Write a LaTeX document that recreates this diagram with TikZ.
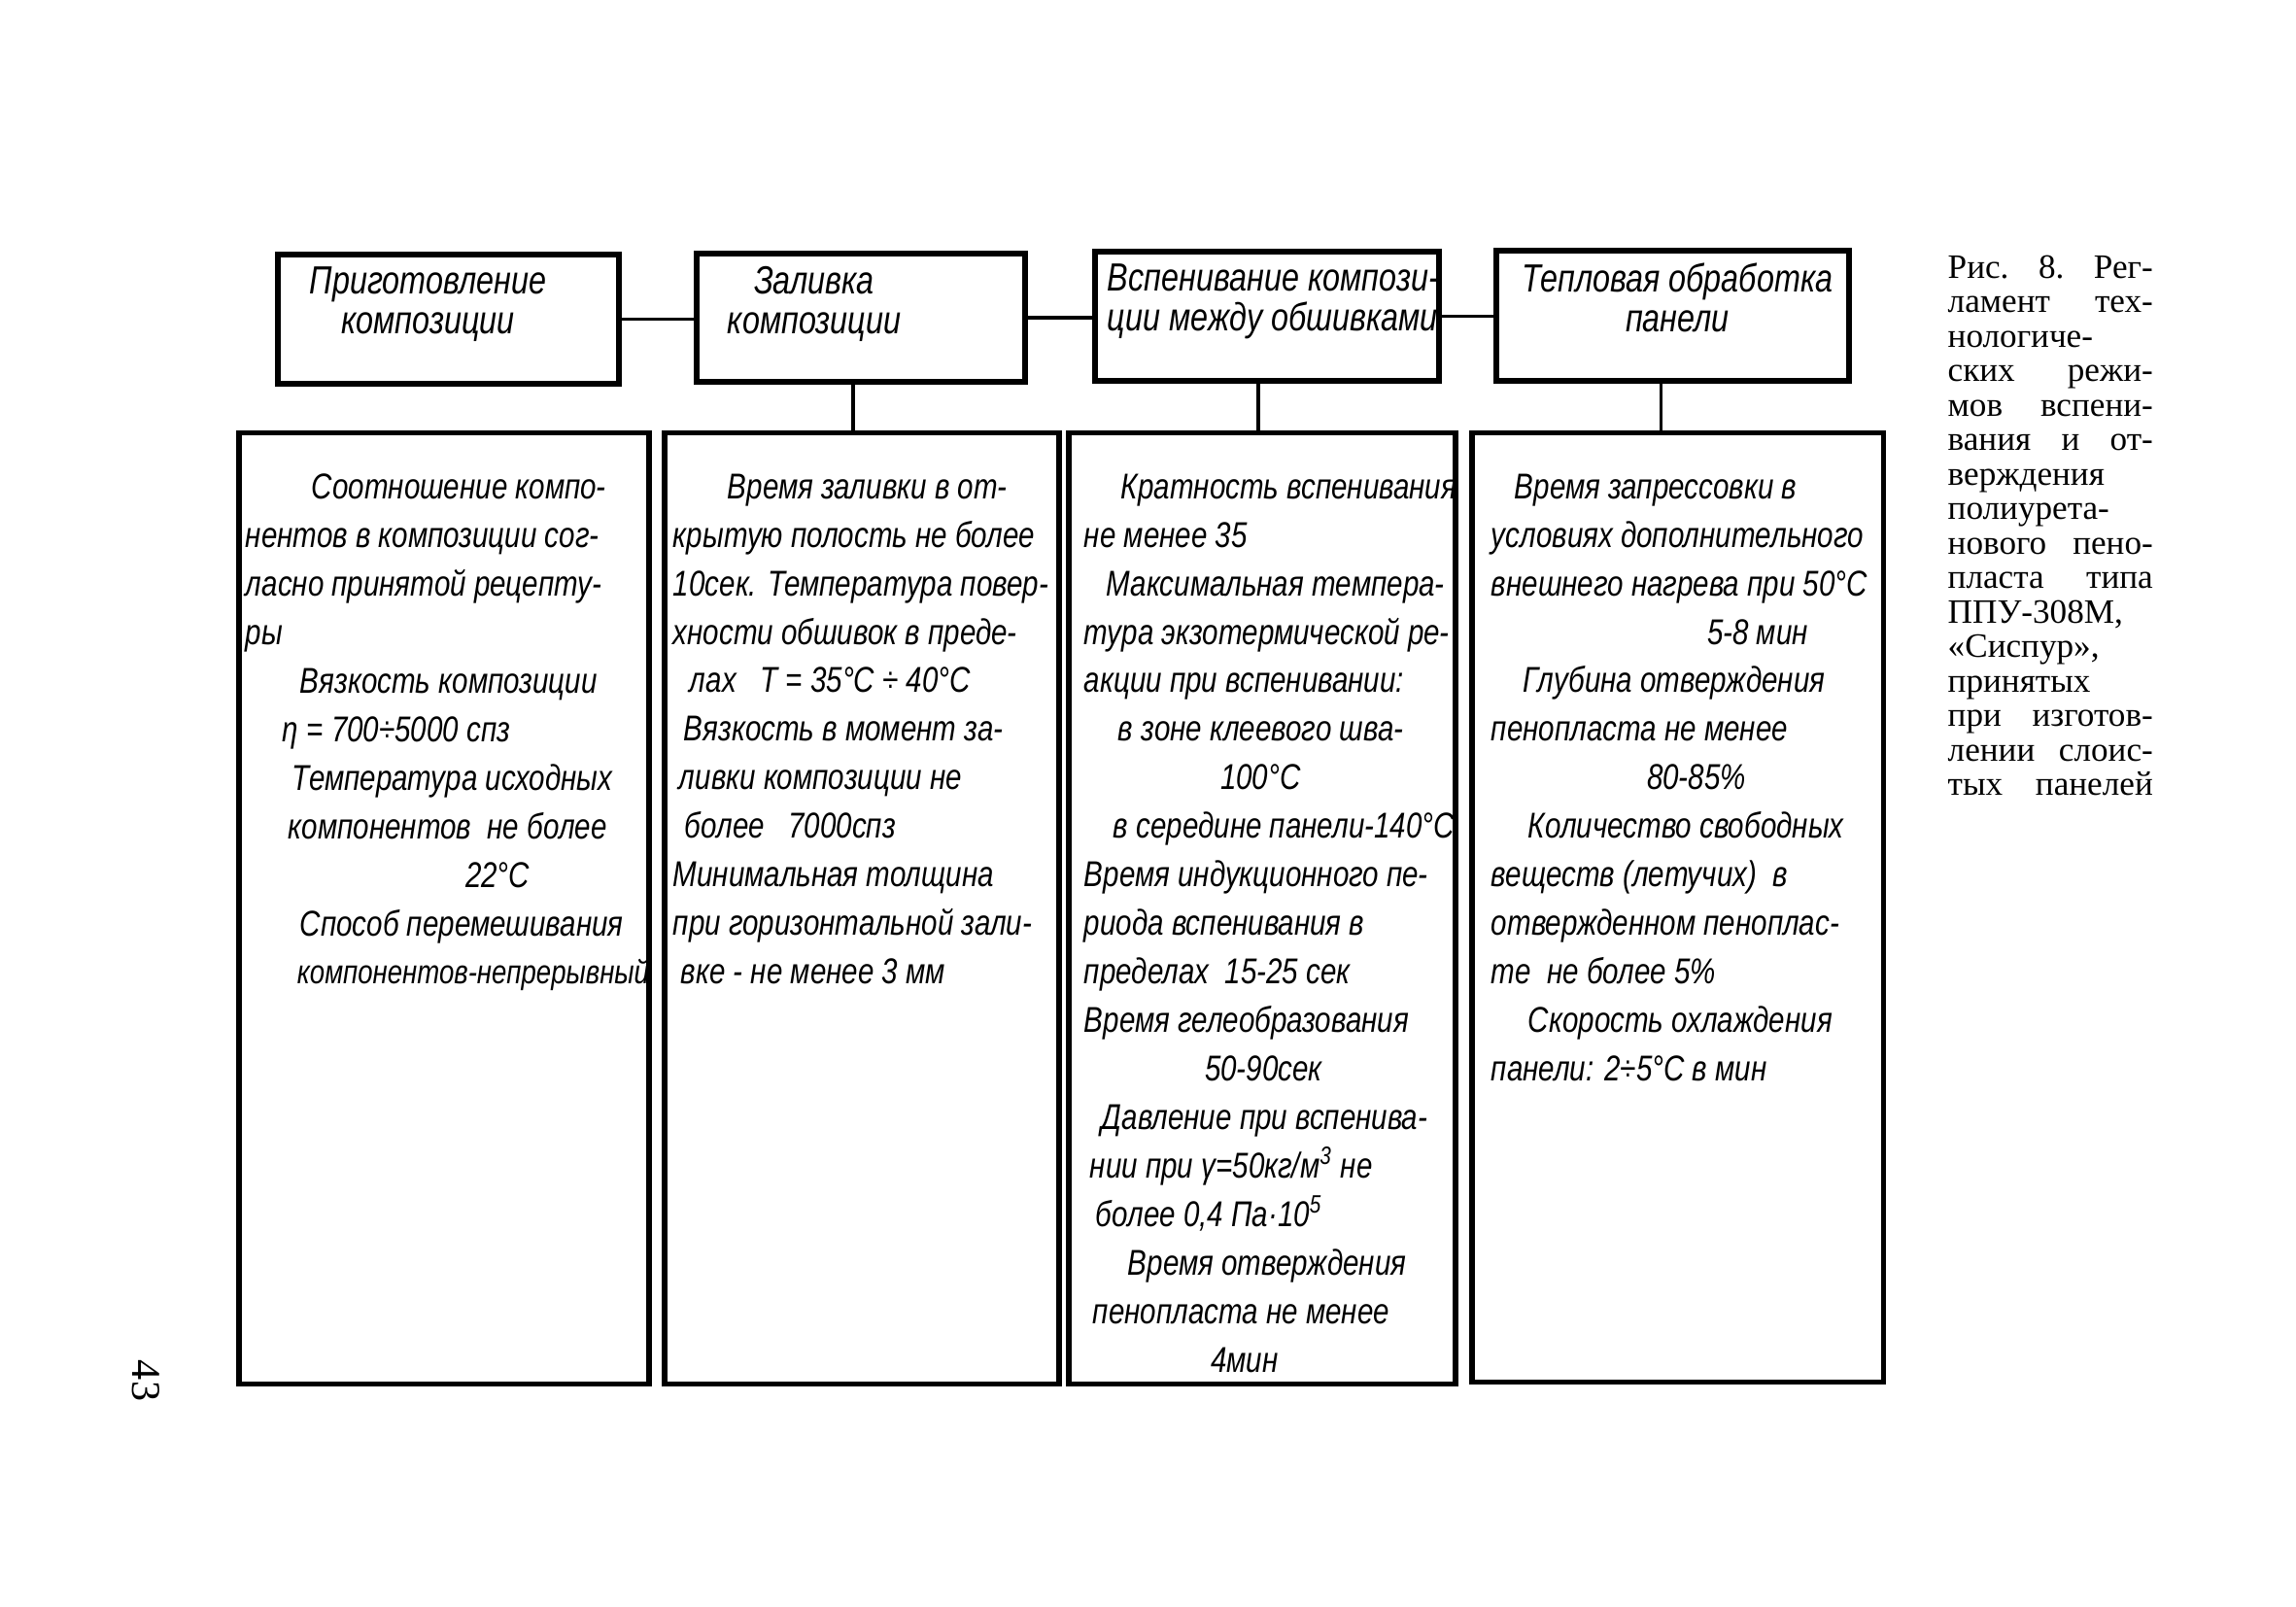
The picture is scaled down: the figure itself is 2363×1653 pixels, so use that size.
\documentclass[tikz,border=0pt]{standalone}
\usepackage{fontspec}
\setmainfont{Liberation Serif}
\newfontfamily\handfont[FakeStretch=0.8]{Liberation Sans}
\usetikzlibrary{positioning}

\newcommand{\capline}[1]{\leavevmode\hbox to 2.11cm{#1}}

\begin{document}
\begin{tikzpicture}[
            x=0.01cm, y=-0.01cm,
            stage/.style={
                draw,
                line width=1.5pt,
                inner sep=0pt
            },
            title/.style={
                inner sep=0pt,
                font=\handfont\itshape\fontsize{11.5}{11.6}\selectfont
            },
            body/.style={
                align=left,
                inner sep=0pt,
                font=\handfont\itshape\fontsize{10.5}{14.2}\selectfont
            },
            link/.style={line width=1pt}
        ]

        \useasboundingbox (0,0) rectangle (2363,1653);

        % stages
        \node[stage, minimum width=3.51cm, minimum height=1.33cm] (prig) at (461.5,328.5) {};
        \node[stage, minimum width=3.38cm, minimum height=1.32cm] (zaliv) at (886,327) {};
        \node[stage, minimum width=3.54cm, minimum height=1.33cm] (vspen) at (1304,325.5) {};
        \node[stage, minimum width=3.63cm, minimum height=1.34cm] (nagrev) at (1721.5,325) {};

        \node[title, align=center, below=0.15cm of prig.north, xshift=-0.21cm] (prig title)
            {Приготовление\\композиции};
        \node[title, align=center, below=0.15cm of zaliv.north, xshift=-0.48cm] (zaliv title)
            {Заливка\\композиции};
        \node[title, align=left, below right=0.15cm and 0.15cm of vspen.north west] (vspen title)
            {Вспенивание компози-\\ции между обшивками};
        \node[title, align=center, below=0.15cm of nagrev.north, xshift=0.05cm] (nagrev title)
            {Тепловая обработка\\панели};

        % regimes
        \node[stage, minimum width=4.22cm, minimum height=9.78cm] (prig reg) at (457,935) {};
        \node[stage, minimum width=4.06cm, minimum height=9.78cm] (zaliv reg) at (887,935) {};
        \node[stage, minimum width=3.98cm, minimum height=9.78cm] (vspen reg) at (1299,935) {};
        \node[stage, minimum width=4.23cm, minimum height=9.76cm] (nagrev reg) at (1726.5,934) {};

        \node[body, below right=0.44cm and 0.09cm of prig reg.north west] (prig text)
            {\hspace*{0.68cm}Соотношение компо-\\
            нентов в композиции сог-\\
            ласно принятой рецепту-\\
            ры\\
            \hspace*{0.56cm}Вязкость композиции\\
            \hspace*{0.38cm}η = 700÷5000 спз\\
            \hspace*{0.48cm}Температура исходных\\
            \hspace*{0.44cm}компонентов~ не более\\
            \hspace*{2.26cm}22°C\\
            \hspace*{0.56cm}Способ перемешивания\\
            \hspace*{0.53cm}{\fontsize{9.8}{14.2}\selectfont компонентов-непрерывный}};

        \node[body, below right=0.44cm and 0.11cm of zaliv reg.north west] (zaliv text)
            {\hspace*{0.56cm}Время заливки в от-\\
            крытую полость не более\\
            10сек. Температура повер-\\
            хности обшивок в преде-\\
            \hspace*{0.17cm}лах~~ T = 35°C ÷ 40°C\\
            \hspace*{0.11cm}Вязкость в момент за-\\
            \hspace*{0.06cm}ливки композиции не\\
            \hspace*{0.12cm}более~~ 7000спз\\
            Минимальная толщина\\
            при горизонтальной зали-\\
            \hspace*{0.08cm}вке - не менее 3 мм};

        \node[body, below right=0.44cm and 0.18cm of vspen reg.north west] (vspen text)
            {\hspace*{0.38cm}Кратность вспенивания\\
            не менее 35\\
            \hspace*{0.23cm}Максимальная темпера-\\
            тура экзотермической ре-\\
            акции при вспенивании:\\
            \hspace*{0.35cm}в зоне клеевого шва-\\
            \hspace*{1.40cm}100°C\\
            \hspace*{0.30cm}в середине панели-140°C\\
            Время индукционного пе-\\
            риода вспенивания в\\
            пределах~ 15-25 сек\\
            Время гелеобразования\\
            \hspace*{1.24cm}50-90сек\\
            \hspace*{0.18cm}Давление при вспенива-\\
            \hspace*{0.06cm}нии при γ=50кг/м\textsuperscript{3} не\\
            \hspace*{0.12cm}более 0,4 Па·10\textsuperscript{5}\\
            \hspace*{0.45cm}Время отверждения\\
            \hspace*{0.09cm}пенопласта не менее\\
            \hspace*{1.30cm}4мин};

        \node[body, below right=0.44cm and 0.22cm of nagrev reg.north west] (nagrev text)
            {\hspace*{0.24cm}Время запрессовки в\\
            условиях дополнительного\\
            внешнего нагрева при 50°C\\
            \hspace*{2.22cm}5-8 мин\\
            \hspace*{0.33cm}Глубина отверждения\\
            пенопласта не менее\\
            \hspace*{1.60cm}80-85\%\\
            \hspace*{0.38cm}Количество свободных\\
            веществ (летучих)~ в\\
            отвержденном пеноплас-\\
            те~ не более 5\%\\
            \hspace*{0.38cm}Скорость охлаждения\\
            панели: 2÷5°C в мин};

        \draw[link] (prig.east) -- (prig.east -| zaliv.west);
        \draw[link] (zaliv.east) -- (zaliv.east -| vspen.west);
        \draw[link] (vspen.east) -- (vspen.east -| nagrev.west);
        \draw[link] ([xshift=-0.08cm]zaliv.south) -- ([xshift=-0.08cm]zaliv.south |- zaliv reg.north);
        \draw[link] ([xshift=-0.09cm]vspen.south) -- ([xshift=-0.09cm]vspen.south |- vspen reg.north);
        \draw[link] ([xshift=-0.12cm]nagrev.south) -- ([xshift=-0.12cm]nagrev.south |- nagrev reg.north);

        % caption and page number
        \node[anchor=north west, inner sep=0pt, text width=2.11cm, align=left,
              font=\fontsize{10}{10.1}\selectfont] (caption) at (2004,262)
            {\capline{Рис.\hfill 8.\hfill Рег-}\\
            \capline{ламент\hfill тех-}\\
            нологиче-\\
            \capline{ских\hfill режи-}\\
            \capline{мов\hfill вспени-}\\
            \capline{вания\hfill и\hfill от-}\\
            верждения\\
            полиурета-\\
            \capline{нового\hfill пено-}\\
            \capline{пласта\hfill типа}\\
            ППУ-308М,\\
            «Сиспур»,\\
            принятых\\
            \capline{при\hfill изготов-}\\
            \capline{лении\hfill слоис-}\\
            \capline{тых\hfill панелей}};

        \node[rotate=-90, inner sep=0pt, font=\fontsize{12}{14}\selectfont] (page) at (150,1421) {43};

    \end{tikzpicture}
\end{document}
